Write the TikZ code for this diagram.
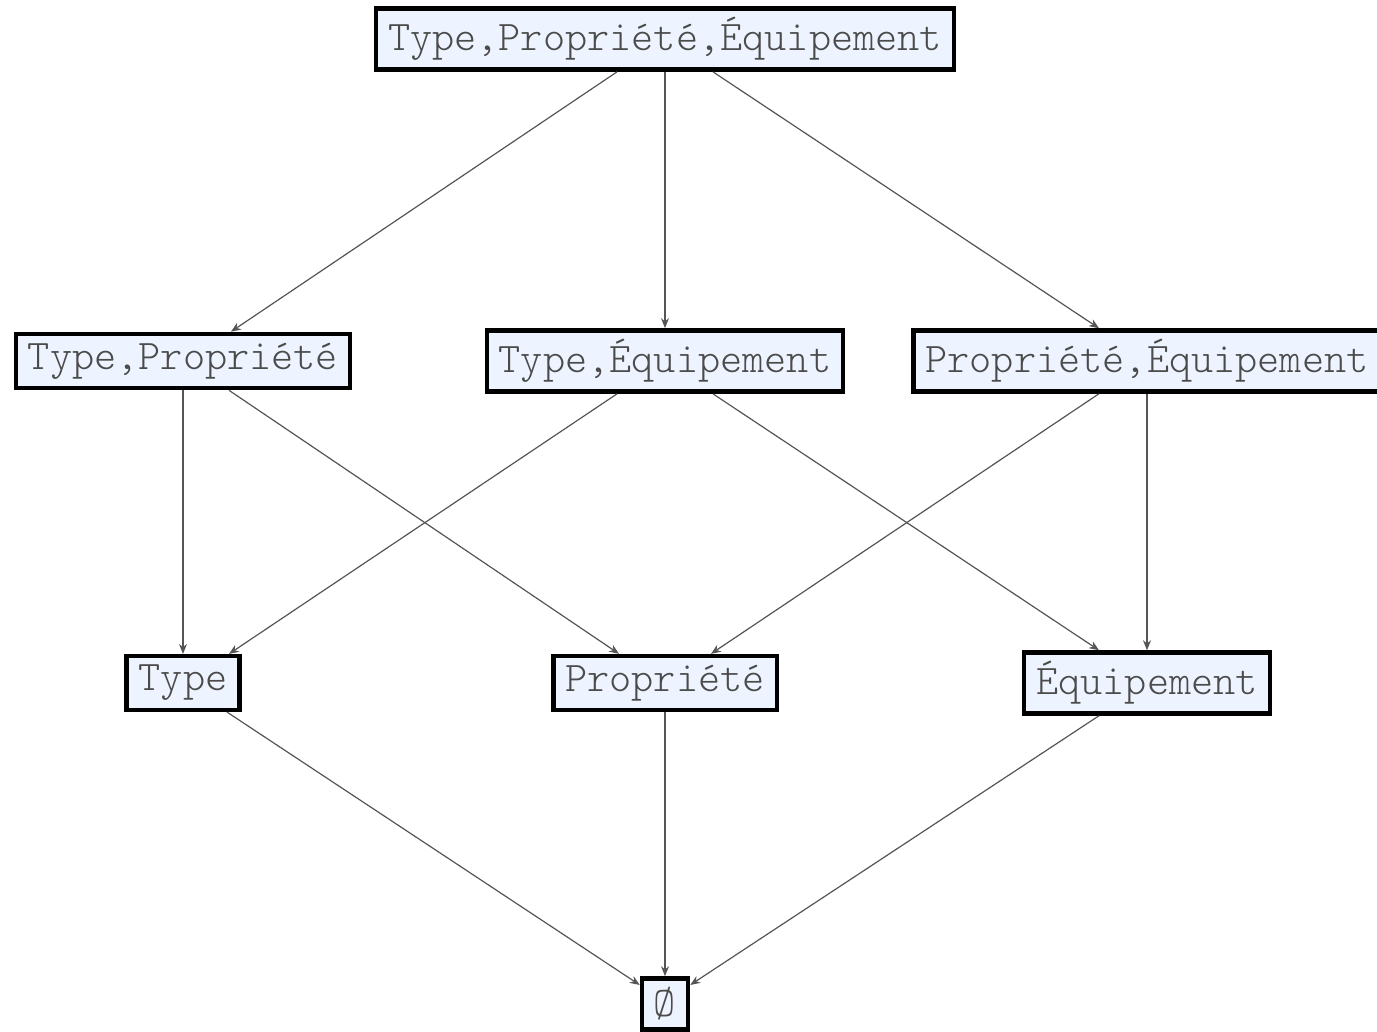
\documentclass[tikz,border=0pt]{standalone}
\usepackage{fontspec}
\newfontfamily\monofont{Latin Modern Mono Light}
\usetikzlibrary{positioning,arrows.meta}
\definecolor{boxfill}{RGB}{238,244,255}
\definecolor{labelgray}{RGB}{75,75,75}
\definecolor{edgegray}{RGB}{85,85,85}
\begin{document}
\begin{tikzpicture}[on grid,node distance=161pt and 241pt,
	thin,set node/.style = {rectangle,draw=black,line width=2.2pt,fill=boxfill,text=labelgray,
		inner xsep=6pt, inner ysep=4.5pt, font=\monofont\fontsize{21.1}{24}\selectfont},
	sub/.style = {draw=edgegray,line width=0.6pt,-{Stealth[length=5pt,width=4pt]}}]
	\useasboundingbox (0,0) rectangle (688.5pt,-516pt);
	
	\node[set node] (TPE) at (332.5pt,-19.5pt) {Type,Propriété,Équipement};
	\node[set node] [below left = of TPE] (TP) {Type,Propriété};
	\node[set node] [below = of TPE] (TE) {Type,Équipement};
	\node[set node] [below right = of TPE] (PE) {Propriété,Équipement};
	
	\node[set node] [below = of TP] (T) {Type};
	\node[set node] [below = of TE] (P) {Propriété};
	\node[set node] [below = of PE] (E) {Équipement};
	\node[set node] [below = 160.5pt of P] (0) {Ø};
	
	\draw[sub] ([xshift=-24pt]TPE.south) -- ([xshift=24pt]TP.north);
	\draw[sub] (TPE) -- (TE);
	\draw[sub] ([xshift=24pt]TPE.south) -- ([xshift=-24pt]PE.north);
	
	\draw[sub] (TP) -- (T);
	\draw[sub] ([xshift=23pt]TP.south) -- ([xshift=-23pt]P.north);
	\draw[sub] ([xshift=-24pt]TE.south) -- ([xshift=23pt]T.north);
	\draw[sub] ([xshift=24pt]TE.south) -- ([xshift=-24pt]E.north);
	\draw[sub] ([xshift=-24pt]PE.south) -- ([xshift=23pt]P.north);
	\draw[sub] (PE) -- (E);
	
	\draw[sub] ([xshift=22pt]T.south) -- (0.143);
	\draw[sub] (P) -- (0);
	\draw[sub] ([xshift=-24pt]E.south) -- (0.37);
\end{tikzpicture}
\end{document}
